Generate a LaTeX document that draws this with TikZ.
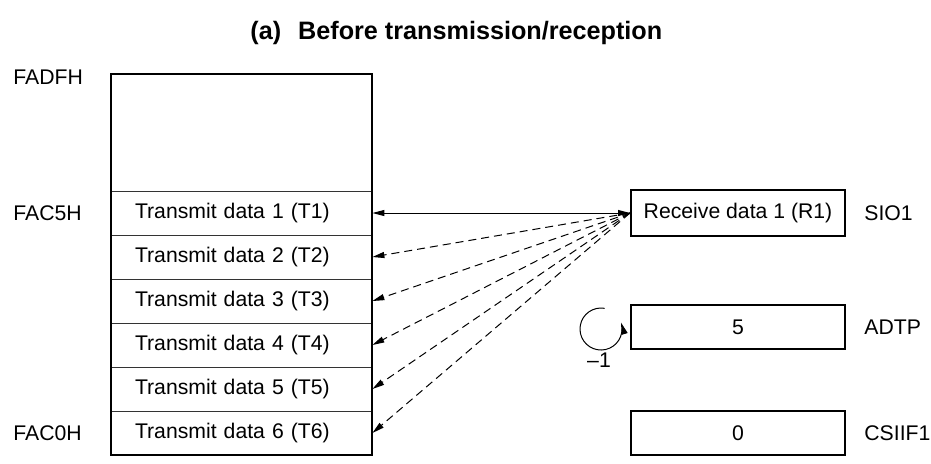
\documentclass[tikz,border=0pt]{standalone}
\usepackage{fontspec}
\setmainfont{Liberation Sans}
\usepackage{tikz}
\usetikzlibrary{positioning, arrows.meta, calc}

\begin{document}
\begin{tikzpicture}[
    x=0.5pt, y=-0.5pt,
    body font/.style={font=\fontsize{10.6}{12}\selectfont},
    mem cell/.style={draw=black!80, line width=0.4pt, minimum width=130.5pt, minimum height=22pt,
        inner xsep=12pt, inner ysep=0pt, text width=106.5pt, align=left, body font},
    reg box/.style={draw, line width=1pt, minimum width=107pt, minimum height=22pt, inner sep=0pt, body font},
    side label/.style={body font, inner sep=0pt},
    tip/.style={-{Triangle[length=6pt, width=3pt]}},
    link dash/.style={dash pattern=on 4pt off 2.5pt}
]

\useasboundingbox (0,0) rectangle (931,463);

% --- 1. Title ---
\node[font=\bfseries\fontsize{12.6}{15}\selectfont, anchor=west, inner sep=0pt] (title) at (250,33)
    {(a)\hspace{8.5pt}Before transmission/reception};

% --- 2. Memory area ---
\node[minimum width=130.5pt, minimum height=58.5pt, inner sep=0pt] (free) at (241.5,132.5) {};
\foreach \i in {1,...,6}{
    \node[mem cell] (t\i) at (241.5,213+44*\i-44) {Transmit data \i\ (T\i)};
}
\draw[line width=1pt] (free.north west) rectangle (t6.south east);

% Addresses
\node[side label, anchor=west] (aTop) at (13,77) {FADFH};
\node[side label, anchor=west] (aMid) at (13,213) {FAC5H};
\node[side label, anchor=west] (aBot) at (13,433) {FAC0H};

% --- 3. Registers ---
\node[reg box, minimum height=23pt] (r1) at (738,213) {Receive data 1 (R1)};
\node[reg box] (adtp) at (738,327) {5};
\node[reg box] (csiif) at (738,433) {0};

\node[side label, anchor=west, right=9pt of r1] (lSio) {SIO1};
\node[side label, anchor=west, right=9pt of adtp] (lAdtp) {ADTP};
\node[side label, anchor=west, right=9pt of csiif] (lCsi) {CSIIF1};

% Decrement marker
\coordinate (cnt) at (601,329);
\draw[tip, line width=0.5pt] ($(cnt)+(80:10.5pt)$) arc[start angle=80, end angle=378, radius=10.5pt];
\node[side label] (dec) at (599,360) {\textendash1};

% --- 4. Transfers ---
\draw[{Triangle[length=6pt, width=3pt]}-{Triangle[length=6pt, width=3pt]}, line width=0.5pt] (t1.east) -- (r1.west);
\foreach \i in {2,...,6}{
    \draw[tip, link dash, line width=0.5pt] (r1.west) -- (t\i.east);
}

\end{tikzpicture}
\end{document}
